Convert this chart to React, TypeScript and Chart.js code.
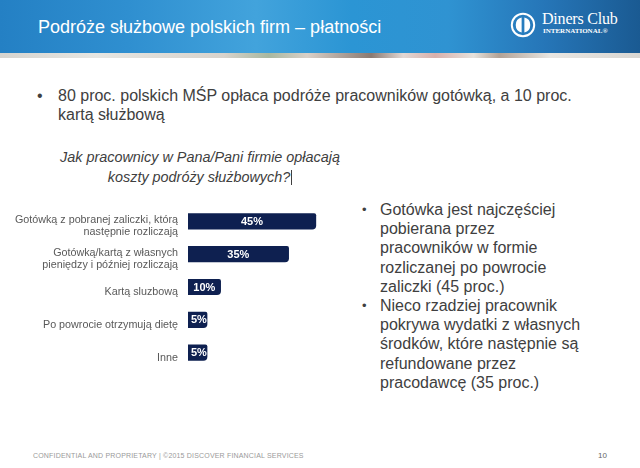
import React, { useEffect, useRef } from 'react';
import { Chart, registerables } from 'chart.js';

Chart.register(...registerables);

const categories: string[][] = [
  ['Gotówką z pobranej zaliczki, którą', 'następnie rozliczają'],
  ['Gotówką/kartą z własnych', 'pieniędzy i później rozliczają'],
  ['Kartą sluzbową'],
  ['Po powrocie otrzymują dietę'],
  ['Inne'],
];
const values: number[] = [45, 35, 10, 5, 5];
const valueLabels: string[] = ['45%', '35%', '10%', '5%', '5%'];

const title = 'Podróże służbowe polskich firm – płatności';
const topBullet = ['80 proc. polskich MŚP opłaca podróże pracowników gotówką, a 10 proc.', 'kartą służbową'];
const question = ['Jak pracownicy w Pana/Pani firmie opłacają', 'koszty podróży służbowych?'];
const rightBullets: string[][] = [
  ['Gotówka jest najczęściej', 'pobierana przez', 'pracowników w formie', 'rozliczanej po powrocie', 'zaliczki (45 proc.)'],
  ['Nieco rzadziej pracownik', 'pokrywa wydatki z własnych', 'środków, które następnie są', 'refundowane przez', 'pracodawcę (35 proc.)'],
];
const footer = 'CONFIDENTIAL AND PROPRIETARY  |  ©2015 DISCOVER FINANCIAL SERVICES';
const pageNo = '10';

const FONT = '"Liberation Sans", Arial, Helvetica, sans-serif';

const valueLabelPlugin = {
  id: 'valueLabels',
  afterDatasetsDraw(chart: any) {
    const ctx = chart.ctx;
    const meta = chart.getDatasetMeta(0);
    ctx.save();
    ctx.font = `bold 11px ${FONT}`;
    ctx.fillStyle = '#ffffff';
    ctx.textBaseline = 'middle';
    meta.data.forEach((bar: any, i: number) => {
      const txt = valueLabels[i];
      const w = ctx.measureText(txt).width;
      const left = bar.base;
      const right = bar.x;
      if (w + 8 < right - left) {
        ctx.textAlign = 'center';
        ctx.fillText(txt, (left + right) / 2, bar.y + 0.5);
      } else {
        ctx.textAlign = 'left';
        ctx.fillText(txt, left + 3, bar.y + 0.5);
      }
    });
    ctx.restore();
  },
};

function BarChart() {
  const ref = useRef<HTMLCanvasElement | null>(null);
  useEffect(() => {
    if (!ref.current) return;
    const chart = new Chart(ref.current, {
      type: 'bar',
      data: {
        labels: categories,
        datasets: [
          {
            data: values,
            base: -2,
            backgroundColor: '#0e2050',
            barThickness: 15.5,
            borderRadius: { topLeft: 0, bottomLeft: 0, topRight: 2, bottomRight: 4 },
            borderSkipped: false,
          } as any,
        ],
      },
      options: {
        indexAxis: 'y',
        responsive: false,
        animation: false,
        layout: { padding: { top: 5, bottom: 6, right: 6, left: 0 } },
        plugins: { legend: { display: false }, tooltip: { enabled: false } },
        scales: {
          x: { display: false, min: -2, max: 48 },
          y: {
            grid: { display: false, drawTicks: false },
            border: { display: false },
            ticks: {
              color: '#595959',
              padding: 10,
              labelOffset: 5,
              font: { family: FONT, size: 10.75, lineHeight: 1.1 },
            },
            afterFit: (s: any) => {
              s.width = 188;
              s.paddingTop = 0;
              s.paddingBottom = 0;
            },
          },
        },
      },
      plugins: [valueLabelPlugin],
    });
    return () => chart.destroy();
  }, []);
  return (
    <canvas
      ref={ref}
      width={330}
      height={175}
      style={{ position: 'absolute', left: 0, top: 200, width: 330, height: 175 }}
    />
  );
}

function Logo() {
  return (
    <div style={{ position: 'absolute', left: 510, top: 12, width: 125, height: 28 }}>
      <svg width={26} height={26} style={{ position: 'absolute', left: 0, top: 0 }}>
        <circle cx={13} cy={13} r={11.2} fill="none" stroke="#ffffff" strokeWidth={2} />
        <path d="M11.6 5.6 A7.6 7.6 0 0 0 11.6 20.4 Z" fill="#ffffff" />
        <path d="M14.4 5.6 A7.6 7.6 0 0 1 14.4 20.4 Z" fill="#ffffff" />
      </svg>
      <div
        style={{
          position: 'absolute',
          left: 32,
          top: -2,
          color: '#ffffff',
          font: `16px "Liberation Serif", "DejaVu Serif", serif`,
          whiteSpace: 'nowrap',
          letterSpacing: -0.2,
        }}
      >
        Diners Club
      </div>
      <div
        style={{
          position: 'absolute',
          left: 33,
          top: 15,
          color: '#ffffff',
          font: `bold 7px "Liberation Serif", "DejaVu Serif", serif`,
          whiteSpace: 'nowrap',
          letterSpacing: 0,
        }}
      >
        INTERNATIONAL®
      </div>
    </div>
  );
}

export default function App() {
  return (
    <div
      style={{
        position: 'absolute',
        left: 0,
        top: 0,
        width: 640,
        height: 468,
        overflow: 'hidden',
        background: '#ffffff',
        fontFamily: FONT,
      }}
    >
      {/* header */}
      <div
        style={{
          position: 'absolute',
          left: 0,
          top: 0,
          width: 640,
          height: 53,
          background:
            'linear-gradient(90deg, #2480c4 0%, #2f8fd0 20%, #42a3dc 40%, #2b95d4 55%, #2f93d2 70%, #2676b8 85%, #1a5a92 100%)',
        }}
      />
      <div
        style={{
          position: 'absolute',
          left: 0,
          top: 53,
          width: 640,
          height: 5,
          background:
            'linear-gradient(90deg, #d6d4cf 0%, #e6e6e2 15%, #d8d3cc 35%, #a8b8a0 42%, #d9d0c8 48%, #8a7a72 58%, #e2d8d4 63%, #d8b0ac 68%, #e6e2dc 74%, #b2a296 78%, #e8e6e2 86%, #d8d6d2 100%)',
        }}
      />
      <div
        style={{
          position: 'absolute',
          left: 38,
          top: 15,
          color: '#ffffff',
          fontSize: 18,
          lineHeight: '24px',
          whiteSpace: 'nowrap',
        }}
      >
        {title}
      </div>
      <Logo />

      {/* top bullet */}
      <div style={{ position: 'absolute', left: 37, top: 86, color: '#404040', fontSize: 16, lineHeight: '20px' }}>•</div>
      <div
        style={{
          position: 'absolute',
          left: 58,
          top: 86,
          color: '#404040',
          fontSize: 16,
          lineHeight: '19px',
          whiteSpace: 'nowrap',
        }}
      >
        <div>{topBullet[0]}</div>
        <div>{topBullet[1]}</div>
      </div>

      {/* question */}
      <div
        style={{
          position: 'absolute',
          left: 40,
          top: 148,
          width: 320,
          textAlign: 'center',
          color: '#404040',
          fontSize: 14.4,
          fontStyle: 'italic',
          lineHeight: '19.5px',
          whiteSpace: 'nowrap',
        }}
      >
        <div>{question[0]}</div>
        <div>
          {question[1]}
          <span
            style={{
              display: 'inline-block',
              width: 0,
              height: 15,
              borderLeft: '1px solid #404040',
              marginLeft: 1,
              verticalAlign: -3,
            }}
          />
        </div>
      </div>

      <BarChart />

      {/* right bullets */}
      <div
        style={{
          position: 'absolute',
          left: 362,
          top: 200,
          color: '#404040',
          fontSize: 16,
          lineHeight: '19.2px',
          whiteSpace: 'nowrap',
        }}
      >
        {rightBullets.map((lines, bi) => (
          <div key={bi} style={{ position: 'relative', paddingLeft: 18 }}>
            <span style={{ position: 'absolute', left: 0, top: 0, fontSize: 13 }}>•</span>
            {lines.map((l, li) => (
              <div key={li}>{l}</div>
            ))}
          </div>
        ))}
      </div>

      {/* footer */}
      <div
        style={{
          position: 'absolute',
          left: 33,
          top: 451,
          color: '#9a9a9a',
          fontSize: 7,
          lineHeight: '10px',
          whiteSpace: 'nowrap',
          letterSpacing: 0.18,
        }}
      >
        {footer}
      </div>
      <div
        style={{
          position: 'absolute',
          left: 598,
          top: 451,
          color: '#666666',
          fontSize: 8,
          lineHeight: '10px',
        }}
      >
        {pageNo}
      </div>
    </div>
  );
}
